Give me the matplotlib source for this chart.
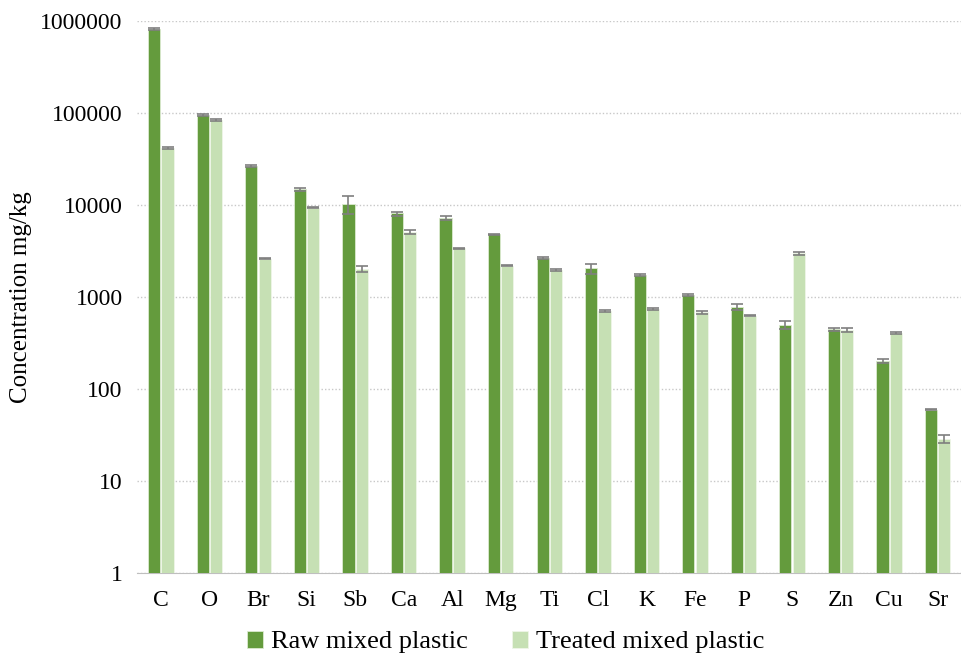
import numpy as np
import matplotlib.pyplot as plt
from matplotlib.ticker import FixedLocator, FixedFormatter

elements = ['C', 'O', 'Br', 'Si', 'Sb', 'Ca', 'Al', 'Mg', 'Ti', 'Cl', 'K', 'Fe', 'P', 'S', 'Zn', 'Cu', 'Sr']
raw_vals = [820000, 95000, 26500, 14800, 10200, 8100, 7300, 4800, 2650, 2050, 1750, 1060, 780, 500, 445, 200, 60]
raw_err = [15000, 3000, 600, 500, 2300, 400, 350, 80, 60, 250, 40, 30, 60, 45, 15, 10, 1]
treated_vals = [41500, 84000, 2620, 9400, 2020, 5100, 3380, 2180, 1990, 700, 740, 680, 630, 3000, 440, 410, 29]
treated_err = [800, 2000, 50, 150, 150, 200, 50, 30, 50, 15, 15, 25, 10, 100, 20, 8, 3]
yticks = [1, 10, 100, 1000, 10000, 100000, 1000000]

plt.rcParams['font.family'] = ['Liberation Serif', 'DejaVu Serif']

fig = plt.figure(figsize=(9.62, 6.58), dpi=100)
ax = fig.add_axes([0.142, 0.129, 0.858, 0.839])

x = np.arange(len(elements))
w = 0.25
off = 0.137
err_kw = dict(ecolor='#7f7f7f', elinewidth=1.2, capsize=4.5, capthick=1.2)
ax.bar(x - off, raw_vals, w, yerr=raw_err, color='#649b3d', edgecolor='#dcebd0',
       linewidth=0.6, error_kw=err_kw, label='Raw mixed plastic', zorder=3)
ax.bar(x + off, treated_vals, w, yerr=treated_err, color='#c6e0b4', edgecolor='#eef6e8',
       linewidth=0.6, error_kw=err_kw, label='Treated mixed plastic', zorder=3)

ax.set_yscale('log')
ax.set_ylim(1, 1000000)
ax.set_xlim(-0.5, len(elements) - 0.5)
ax.yaxis.set_major_locator(FixedLocator(yticks))
ax.yaxis.set_major_formatter(FixedFormatter([str(v) for v in yticks]))
ax.yaxis.set_minor_locator(FixedLocator([]))
ax.set_xticks(x)
ax.set_xticklabels(elements)
ax.tick_params(axis='both', length=0, labelsize=17, colors='black')
ax.tick_params(axis='x', pad=12)
ax.tick_params(axis='y', pad=10)
ax.grid(axis='y', color='#c8c8c8', linestyle=(0, (1, 1.5)), linewidth=1, zorder=0)
for s in ['top', 'right', 'left']:
    ax.spines[s].set_visible(False)
ax.spines['bottom'].set_color('#bfbfbf')
ax.set_ylabel('Concentration mg/kg', fontsize=18, labelpad=6)

ax.legend(loc='center', bbox_to_anchor=(0.447, -0.125), ncol=2, frameon=False,
          fontsize=19, handlelength=0.6, handleheight=0.6, handletextpad=0.3, columnspacing=1.7)

fig.savefig('out.png', dpi=100)
